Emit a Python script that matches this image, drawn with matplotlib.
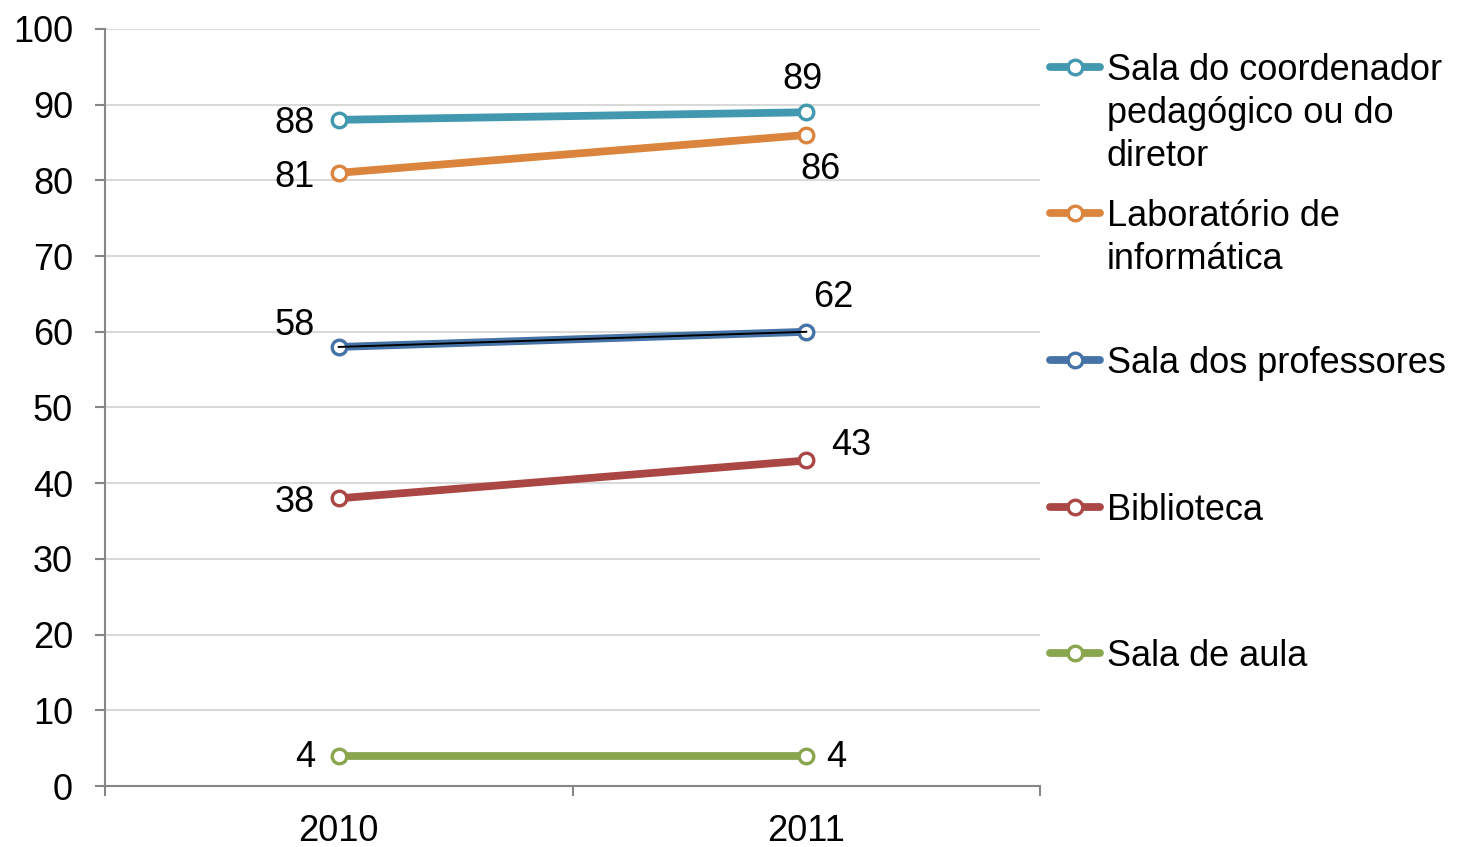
import matplotlib.pyplot as plt
from matplotlib.lines import Line2D

plt.rcParams['font.family'] = ['Liberation Sans', 'DejaVu Sans']

# data
years = ['2010', '2011']
series_names = [
    'Sala do coordenador\npedagógico ou do\ndiretor',
    'Laboratório de\ninformática',
    'Sala dos professores',
    'Biblioteca',
    'Sala de aula',
]
coordenador = [88, 89]
laboratorio = [81, 86]
professores = [58, 60]
professores_labels = ['58', '62']   # the source labels 62 but plots 60
biblioteca = [38, 43]
aula = [4, 4]

values = [coordenador, laboratorio, professores, biblioteca, aula]
labels = [[str(v) for v in coordenador], [str(v) for v in laboratorio],
          professores_labels, [str(v) for v in biblioteca], [str(v) for v in aula]]
colors = ['#4198AF', '#DB843D', '#4572A7', '#AA4643', '#89A54E']

# label offsets in pixels (dx, dy, ha) for 2010 and 2011 points
offsets = [
    [(-24, -4, 'right'), (-4, 33, 'center')],
    [(-24, -5, 'right'), (14, -35, 'center')],
    [(-24, 21, 'right'), (27, 34, 'center')],
    [(-24, -4, 'right'), (45, 15, 'center')],
    [(-24, -2, 'right'), (20, -2, 'left')],
]

FS = 26
LW = 5.6

fig = plt.figure(figsize=(14.58, 8.47), dpi=100)
ax = fig.add_axes([105 / 1458, 61 / 847, 935 / 1458, 757 / 847])

x = list(range(len(years)))
for i, (vals, col) in enumerate(zip(values, colors)):
    ax.plot(x, vals, color=col, lw=LW, marker='o', ms=10.5, mew=2.4,
            mfc='white', mec=col, solid_capstyle='round', zorder=3 + i * 0.1)
    if i == 2:
        ax.plot(x, vals, color='black', lw=1.4, zorder=3.25)
    for j in x:
        dx, dy, ha = offsets[i][j]
        ax.annotate(labels[i][j], (j, vals[j]), xytext=(dx, dy),
                    textcoords='offset pixels', ha=ha, va='center',
                    fontsize=FS, zorder=5)

ax.set_xlim(-0.5, 1.5)
ax.set_ylim(0, 100)
ax.set_yticks(range(0, 101, 10))
ax.set_xticks(x)
ax.set_xticklabels(years)
ax.set_xticks([-0.5, 0.5, 1.5], minor=True)
ax.grid(axis='y', color='#D9D9D9', lw=1.5, zorder=0)
ax.set_axisbelow(True)

for s in ['top', 'right']:
    ax.spines[s].set_visible(False)
for s in ['left', 'bottom']:
    ax.spines[s].set_color('#868686')
    ax.spines[s].set_linewidth(1.5)

ax.tick_params(axis='y', which='major', length=7, width=1.5, color='#868686',
               labelsize=FS, pad=16)
ax.tick_params(axis='x', which='major', length=0, labelsize=FS, pad=20)
ax.tick_params(axis='x', which='minor', length=7, width=1.5, color='#868686')

# legend drawn by hand to follow the original spacing
legend_y = [67, 213, 360, 507, 653]
for name, col, py in zip(series_names, colors, legend_y):
    yf = 1 - py / 847
    fig.add_artist(Line2D([1050 / 1458, 1100 / 1458], [yf, yf], color=col,
                          lw=LW, solid_capstyle='round',
                          transform=fig.transFigure))
    fig.add_artist(Line2D([1075 / 1458], [yf], color=col, marker='o', ms=10.5,
                          mew=2.4, mfc='white', mec=col,
                          transform=fig.transFigure))
    fig.text(1107 / 1458, yf + 14 / 847, name, fontsize=FS, va='top',
             ha='left', linespacing=1.3)

fig.savefig('out.png', dpi=100)
